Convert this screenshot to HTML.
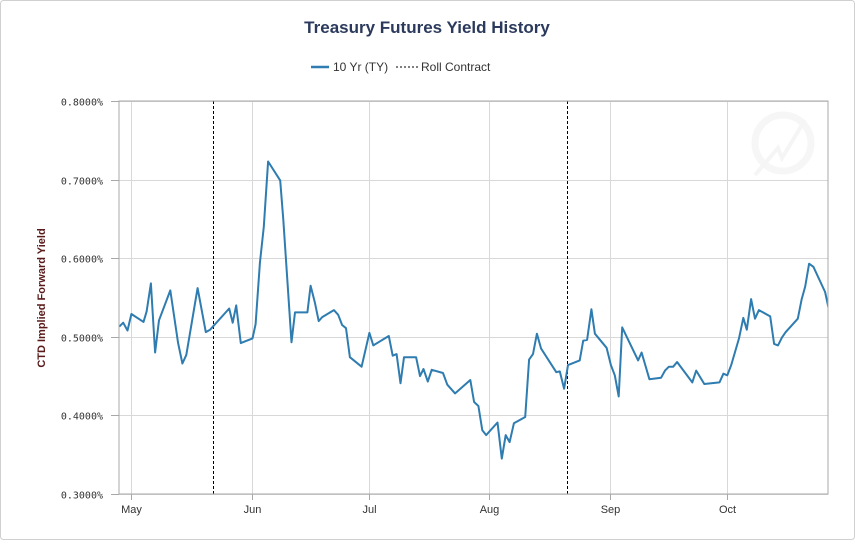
<!DOCTYPE html>
<html><head><meta charset="utf-8"><style>
html,body{margin:0;padding:0;background:#fff;}
body{width:855px;height:540px;overflow:hidden;font-family:"Liberation Sans",sans-serif;}
</style></head><body>
<svg id="chart" width="855" height="540" xmlns="http://www.w3.org/2000/svg">
<rect x="0.5" y="0.5" width="854" height="539" rx="3" fill="#fff" stroke="#d0d0d0"/>
<text x="427" y="33" text-anchor="middle" font-size="17" font-weight="bold" fill="#2b3a5c">Treasury Futures Yield History</text>
<g>
<g><line x1="311" y1="67" x2="329" y2="67" stroke="#2e7cb0" stroke-width="2.5"/><text x="333" y="71" font-size="12" fill="#333">10 Yr (TY)</text></g>
<g><line x1="396" y1="67" x2="418" y2="67" stroke="#000" stroke-width="1" stroke-dasharray="2,2"/><text x="421" y="71" font-size="12" fill="#333">Roll Contract</text></g>
</g>
<text transform="translate(45,298) rotate(-90)" text-anchor="middle" font-size="11" font-weight="bold" fill="#5a1a1a">CTD Implied Forward Yield</text>
<g id="grid"></g>
<g id="watermark" opacity="0.2">
<circle cx="783" cy="143" r="28" fill="none" stroke="#d5d5d5" stroke-width="7"/>
<path d="M755 175 L778 148 L782 158 L805 120" fill="none" stroke="#cfcfcf" stroke-width="4"/>
</g>
<g id="marks"></g>
<rect x="119" y="101" width="709" height="393" fill="none" stroke="#a8a8a8"/>
<g id="axes"></g>
</svg>
<script>
const monthLabels = ["May","Jun","Jul","Aug","Sep","Oct"];
const monthDays = [0,31,61,92,123,153];
const yTicks = [0.3,0.4,0.5,0.6,0.7,0.8];
const rollDays = [21,112];
const days = [-3.0,-2.0,-0.9,0.1,3.2,4.0,5.1,6.2,7.2,10.1,12.1,13.2,14.2,17.1,19.2,20.3,25.2,26.1,27.0,28.2,31.2,32.0,33.1,34.1,35.2,38.3,39.1,41.2,42.1,45.3,46.1,47.2,48.2,49.1,52.1,53.2,54.2,55.2,56.2,59.2,61.2,62.2,66.2,67.2,68.2,69.2,70.1,73.2,74.2,75.1,76.2,77.2,80.1,81.2,83.2,87.1,88.1,89.2,90.2,91.2,94.1,95.2,96.2,97.2,98.3,101.2,102.2,103.2,104.2,105.3,109.2,110.1,111.2,112.2,115.2,116.1,117.1,118.2,119.1,122.1,123.2,124.2,125.2,126.1,130.2,131.1,133.1,136.1,137.1,138.1,139.2,140.2,144.1,145.1,147.2,151.1,152.1,153.1,154.1,156.1,157.2,158.1,159.2,160.2,161.2,164.1,165.1,166.1,167.1,168.1,171.2,172.2,173.1,174.1,175.2,178.2,179.2];
const yields = [0.513,0.518,0.508,0.529,0.519,0.532,0.568,0.480,0.521,0.559,0.492,0.466,0.477,0.562,0.506,0.509,0.536,0.518,0.540,0.492,0.498,0.516,0.594,0.640,0.723,0.699,0.649,0.493,0.531,0.531,0.565,0.544,0.520,0.525,0.534,0.528,0.515,0.511,0.474,0.462,0.505,0.489,0.501,0.476,0.478,0.441,0.474,0.474,0.450,0.459,0.443,0.458,0.454,0.439,0.428,0.445,0.417,0.412,0.381,0.375,0.391,0.345,0.375,0.366,0.390,0.398,0.471,0.478,0.504,0.485,0.455,0.456,0.434,0.464,0.470,0.495,0.496,0.535,0.504,0.486,0.464,0.451,0.424,0.512,0.470,0.480,0.446,0.448,0.457,0.462,0.462,0.468,0.442,0.457,0.440,0.442,0.453,0.451,0.464,0.498,0.524,0.509,0.548,0.523,0.534,0.526,0.491,0.489,0.499,0.506,0.523,0.548,0.564,0.593,0.589,0.557,0.534];

const NS="http://www.w3.org/2000/svg";
const L=119,R=828,T=101,B=494;
const xS=d=>131+d*3.895;
const yS=v=>B-(v-0.3)/0.5*(B-T);
function mk(tag,attrs,parent){const e=document.createElementNS(NS,tag);for(const k in attrs)e.setAttribute(k,attrs[k]);parent.appendChild(e);return e;}
const grid=document.getElementById('grid'),axes=document.getElementById('axes'),marks=document.getElementById('marks');
yTicks.forEach(v=>{
  const y=Math.round(yS(v))+0.5;
  const g=mk('line',{x1:L,x2:R,y1:y,y2:y,stroke:'#d8d8d8'},grid);
  
  
  const t=mk('line',{x1:111,x2:119,y1:y,y2:y,stroke:'#a8a8a8'},axes);
  
  
  const tx=mk('text',{x:103,y:y+4,'text-anchor':'end','font-size':'10',fill:'#333','font-family':'"DejaVu Sans Mono","Liberation Mono",monospace'},axes);
  tx.textContent=v.toFixed(4)+'%';
  
  
});
monthDays.forEach((d,i)=>{
  const x=Math.round(xS(d))+0.5;
  const g=mk('line',{x1:x,x2:x,y1:T,y2:B,stroke:'#d8d8d8'},grid);
  
  
  const t=mk('line',{x1:x,x2:x,y1:B,y2:B+6,stroke:'#a8a8a8'},axes);
  
  
  const tx=mk('text',{x:x,y:513,'text-anchor':'middle','font-size':'11',fill:'#333'},axes);
  tx.textContent=monthLabels[i];
  
  
});
const clip=mk('clipPath',{id:'pc'},mk('defs',{},document.getElementById('chart')));
mk('rect',{x:L,y:T,width:R-L,height:B-T},clip);
rollDays.forEach(d=>{
  const x=Math.round(xS(d))+0.5;
  const l=mk('line',{x1:x,x2:x,y1:T,y2:B,stroke:'#000','stroke-width':1,'stroke-dasharray':'3,2'},marks);
  
  
});
const p=mk('polyline',{points:days.map((d,i)=>xS(d).toFixed(1)+','+yS(yields[i]).toFixed(1)).join(' '),fill:'none',stroke:'#2e7cb0','stroke-width':2,'stroke-linejoin':'round','clip-path':'url(#pc)'},marks);


</script>
</body></html>
